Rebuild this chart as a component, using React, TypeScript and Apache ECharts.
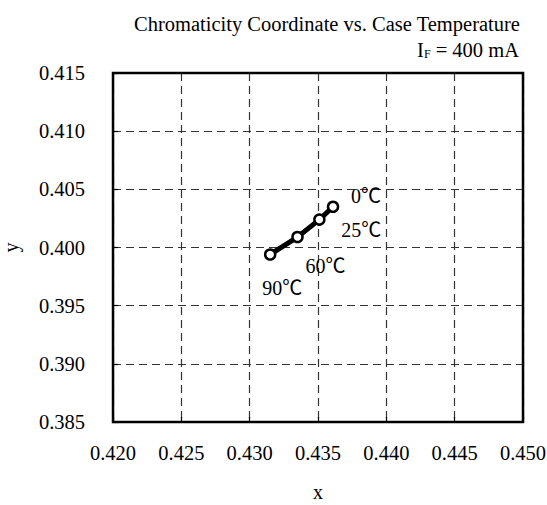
import React, { useEffect, useRef } from "react";
import * as echarts from "echarts";

const title = "Chromaticity Coordinate vs. Case Temperature";
const temps = ["90℃", "60℃", "25℃", "0℃"];
const xValues = [0.4315, 0.4335, 0.4351, 0.4361];
const yValues = [0.3994, 0.4009, 0.4024, 0.4035];
const labelOffsets = [[12, 34], [28, 29], [42, 10], [33, -11]];

const FONT = "Liberation Serif, Noto Sans CJK JP, serif";

const txt = (size: number) => ({
  fontFamily: FONT,
  fontSize: size,
  fontWeight: "normal",
  fontStyle: "normal",
  color: "#000",
});

const dashed = { show: true, lineStyle: { color: "#333", type: [8, 5], width: 1.2 } };

export default function App() {
  const ref = useRef<HTMLDivElement>(null);
  useEffect(() => {
    const chart = echarts.init(ref.current!, undefined, { renderer: "svg" });
    const data = xValues.map((x, i) => ({
      value: [x, yValues[i]],
      label: {
        show: true,
        position: "inside",
        offset: labelOffsets[i],
        formatter: "{s|" + temps[i] + "}",
        ...txt(20),
        rich: { s: txt(20) },
      },
    }));
    chart.setOption({
      animation: false,
      backgroundColor: "#fff",
      textStyle: { fontFamily: FONT },
      title: [
        {
          text: title,
          left: 322,
          top: 9,
          textAlign: "center",
          textStyle: txt(20.5),
        },
        {
          text: "{a|I}{b|F}{a| = 400 mA}",
          right: 23,
          top: 34,
          textStyle: {
            ...txt(20.5),
            rich: {
              a: txt(20.5),
              b: { ...txt(12), verticalAlign: "bottom", padding: [9, 0, 0, 0] },
            },
          },
        },
      ],
      grid: { left: 113, right: 24, top: 73, bottom: 83, containLabel: false, outerBoundsMode: "none" },
      xAxis: {
        type: "value",
        min: 0.42,
        max: 0.45,
        interval: 0.005,
        name: "x",
        nameLocation: "middle",
        nameGap: 60,
        nameTextStyle: txt(20),
        axisLine: { show: true, onZero: false, lineStyle: { color: "#000", width: 2 } },
        axisTick: { show: true, inside: true, length: 5, lineStyle: { color: "#000", width: 1.2 } },
        axisLabel: {
          margin: 21,
          ...txt(20.5),
          rich: { s: txt(20.5) },
          formatter: (v: number) => "{s|" + v.toFixed(3) + "}",
        },
        splitLine: dashed,
      },
      yAxis: {
        type: "value",
        min: 0.385,
        max: 0.415,
        interval: 0.005,
        name: "y",
        nameLocation: "middle",
        nameGap: 92,
        nameRotate: 90,
        nameTextStyle: txt(20),
        axisLine: { show: true, onZero: false, lineStyle: { color: "#000", width: 2 } },
        axisTick: { show: true, inside: true, length: 5, lineStyle: { color: "#000", width: 1.2 } },
        axisLabel: {
          margin: 28,
          ...txt(20.5),
          rich: { s: txt(20.5) },
          formatter: (v: number) => "{s|" + v.toFixed(3) + "}",
        },
        splitLine: dashed,
      },
      graphic: [
        {
          type: "rect",
          shape: { x: 113, y: 73, width: 410, height: 349 },
          style: { fill: "none", stroke: "#000", lineWidth: 2.5 },
          z: 10,
        },
      ],
      series: [
        {
          type: "line",
          data,
          symbol: "circle",
          symbolSize: 10,
          lineStyle: { color: "#000", width: 5 },
          itemStyle: { color: "#fff", borderColor: "#000", borderWidth: 2.5 },
          z: 5,
        },
      ],
    });
    return () => chart.dispose();
  }, []);
  return (
    <div
      ref={ref}
      style={{ position: "fixed", left: 0, top: 0, width: 547, height: 505, background: "#fff" }}
    />
  );
}
